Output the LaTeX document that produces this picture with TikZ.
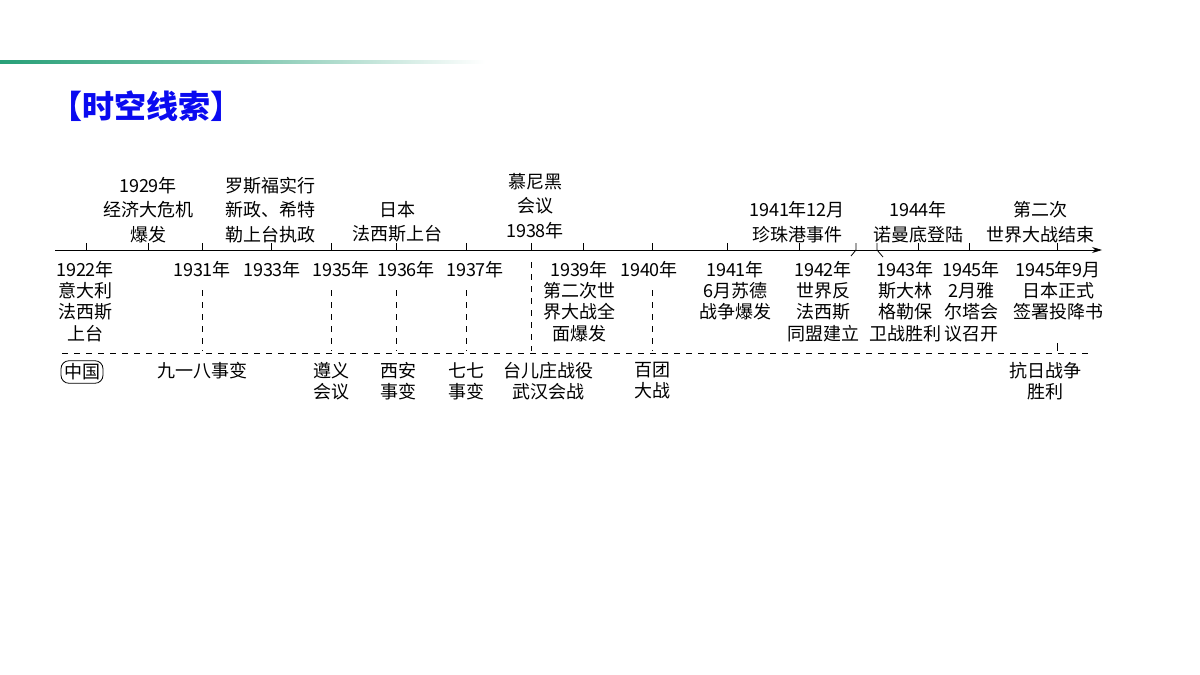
\documentclass[tikz,border=0pt]{standalone}
\usepackage{fontspec}
\usepackage{tikz}
\usetikzlibrary{positioning,arrows.meta}
\newfontfamily\cjk{Noto Sans CJK SC}
\definecolor{titleblue}{RGB}{10,10,240}
\definecolor{bargreen}{RGB}{40,160,120}

\begin{document}
\begin{tikzpicture}[x=0.5pt,y=-0.5pt,
    lbl/.style={font=\cjk\fontsize{9}{10.6}\selectfont, align=center, inner sep=0pt},
    up/.style={lbl, font=\cjk\fontsize{9}{12.2}\selectfont, anchor=south},
    down/.style={lbl, anchor=north},
    guide/.style={dashed, thin}]
    \useasboundingbox (0,0) rectangle (1200,675);

    % Kopfzeile
    \shade[left color=bargreen, right color=white, middle color=bargreen!60] (0,60.5) rectangle (485,63.5);
    \node[font=\cjk\bfseries\fontsize{16}{18}\selectfont, text=titleblue, anchor=west, inner sep=0pt] (title) at (50,106) {【时空线索】};

    % Zeitachse
    \coordinate (axisL) at (55,250);
    \coordinate (axisR) at (1102,250);
    \draw[-{Stealth[length=5pt,width=3pt]}] (axisL) -- (axisR);
    \foreach \x in {86,148,202,271,331,396,466,531,583,652,727,799,918,969,1057}
        \draw (\x,250) -- (\x,243);
    \draw (856,243) -- (856,250) -- (851,256);
    \draw (877,243) -- (877,250) -- (883,257);

    % obere Texte
    \node[up] (t1929) at (148,243) {1929年\\经济大危机\\爆发};
    \node[up] (t1933) at (270,243) {罗斯福实行\\新政、希特\\勒上台执政};
    \node[up] (t1936) at (397,243) {日本\\法西斯上台};
    \node[up] (t1938) at (535,239) {慕尼黑\\会议\\1938年};
    \node[up] (t1941b) at (797,243) {1941年12月\\珍珠港事件};
    \node[up] (t1944) at (918,243) {1944年\\诺曼底登陆};
    \node[up] (t1945b) at (1040,243) {第二次\\世界大战结束};

    % untere Texte
    \node[down] (b1922) at (85,261) {1922年\\意大利\\法西斯\\上台};
    \node[down] (b1931) at (202,261) {1931年};
    \node[down] (b1933) at (272,261) {1933年};
    \node[down] (b1935) at (341,261) {1935年};
    \node[down] (b1936) at (406,261) {1936年};
    \node[down] (b1937) at (475,261) {1937年};
    \node[down] (b1939) at (579,261) {1939年\\第二次世\\界大战全\\面爆发};
    \node[down] (b1940) at (649,261) {1940年};
    \node[down] (b1941) at (735,261) {1941年\\6月苏德\\战争爆发};
    \node[down] (b1942) at (823,261) {1942年\\世界反\\法西斯\\同盟建立};
    \node[down] (b1943) at (905,261) {1943年\\斯大林\\格勒保\\卫战胜利};
    \node[down] (b1945) at (971,261) {1945年\\2月雅\\尔塔会\\议召开};
    \node[down] (b1945c) at (1058,261) {1945年9月\\日本正式\\签署投降书};

    % Trennlinie China
    \coordinate (sepL) at (62,353);
    \coordinate (sepR) at (1090,353);
    \draw[guide] (sepL) -- (sepR);
    \node[lbl, draw, rounded corners=4pt, inner sep=1.5pt] (cn) at (82,372) {中国};
    \node[down] (c918) at (202,362) {九一八事变};
    \node[down] (c1935) at (331,362) {遵义\\会议};
    \node[down] (c1936) at (398,362) {西安\\事变};
    \node[down] (c1937) at (466,362) {七七\\事变};
    \node[down] (c1938) at (548,362) {台儿庄战役\\武汉会战};
    \node[down] (c1940) at (652,362) {百团\\大战};
    \node[down] (c1945) at (1045,362) {抗日战争\\胜利};

    % Hilfslinien
    \draw[guide] (202,290) -- (202,351);
    \draw[guide] (331,290) -- (331,351);
    \draw[guide] (396,290) -- (396,351);
    \draw[guide] (466,290) -- (466,351);
    \draw[guide] (531,262) -- (531,351);
    \draw[guide] (652,290) -- (652,351);
    \draw (1057,343) -- (1057,351);
\end{tikzpicture}
\end{document}
